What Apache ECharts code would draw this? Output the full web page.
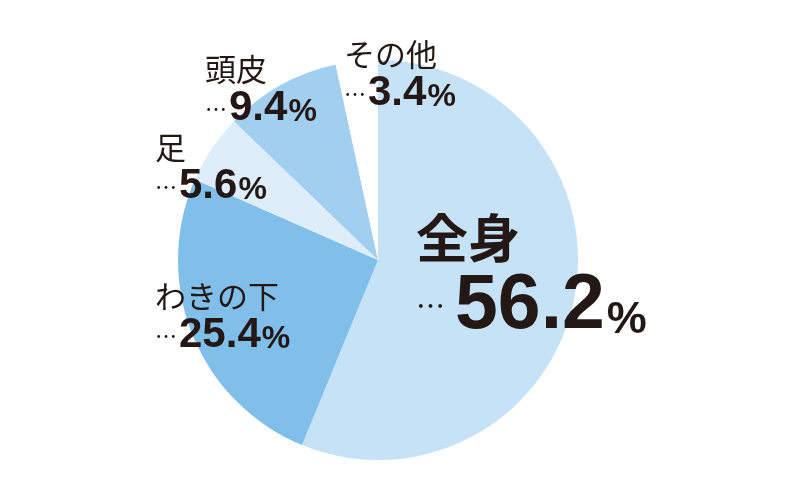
<!DOCTYPE html>
<html>
<head>
<meta charset="utf-8">
<script src="https://cdn.jsdelivr.net/npm/echarts@6/dist/echarts.min.js"></script>
<style>html,body{margin:0;padding:0;background:#fff;}#c{width:800px;height:500px;}</style>
</head>
<body>
<div id="c"></div>
<script>
const categories = ['全身', 'わきの下', '足', '頭皮', 'その他'];
const values = [56.2, 25.4, 5.6, 9.4, 3.4];
const colors = ['#c6e2f6', '#80bfea', '#ddedf9', '#a2cff0', '#ffffff'];

// label anchor positions (left, top) per slice, in px
const labelPos = [[416, 204], [155, 270], [155, 121], [205, 43], [344, 28]];

const chart = echarts.init(document.getElementById('c'), null, {renderer: 'canvas'});
const JP = '"Noto Sans CJK JP", sans-serif';
const NUM = '"Liberation Sans", Arial, sans-serif';
const INK = '#231815';

chart.setOption({
  backgroundColor: '#ffffff',
  animation: false,
  series: [{
    type: 'pie',
    center: [378, 260],
    radius: 200,
    startAngle: 90,
    clockwise: true,
    avoidLabelOverlap: false,
    silent: true,
    data: categories.map((c, i) => ({
      name: c,
      value: values[i],
      itemStyle: {color: colors[i]}
    })),
    itemStyle: {borderWidth: 0},
    labelLine: {show: false},
    label: {
      show: true,
      position: 'outside',
      color: INK,
      formatter: function (p) {
        const v = p.value.toFixed(1);
        if (p.dataIndex === 0) {
          return '{N|' + p.name + '}\n{D|…}{V|' + v + '}{P|%}';
        }
        return '{n|' + p.name + '}\n{d|…}{v|' + v + '}{p|%}';
      },
      rich: {
        n: {fontFamily: JP, fontSize: 31, fontWeight: 'normal', color: INK, lineHeight: 42, verticalAlign: 'bottom'},
        d: {fontFamily: JP, fontSize: 22, color: INK, lineHeight: 44, verticalAlign: 'bottom', padding: [0, 2, 9, 0]},
        v: {fontFamily: NUM, fontSize: 42, fontWeight: 'bold', color: INK, lineHeight: 44, verticalAlign: 'bottom'},
        p: {fontFamily: NUM, fontSize: 32, fontWeight: 'bold', color: INK, lineHeight: 44, verticalAlign: 'bottom', padding: [0, 0, 1, 1]},
        N: {fontFamily: JP, fontSize: 52, fontWeight: 'bold', color: INK, lineHeight: 60, verticalAlign: 'bottom'},
        D: {fontFamily: JP, fontSize: 29, color: INK, lineHeight: 82, verticalAlign: 'bottom', padding: [0, 10, 26, 0]},
        V: {fontFamily: NUM, fontSize: 77, fontWeight: 'bold', color: INK, lineHeight: 82, verticalAlign: 'bottom', padding: [0, 0, 1, 0]},
        P: {fontFamily: NUM, fontSize: 45, fontWeight: 'bold', color: INK, lineHeight: 82, verticalAlign: 'bottom', padding: [0, 0, 3, 2]}
      }
    },
    labelLayout: function (p) {
      const pos = labelPos[p.dataIndex];
      return {x: pos[0], y: pos[1], align: 'left', verticalAlign: 'top'};
    }
  }]
});
</script>
</body>
</html>
